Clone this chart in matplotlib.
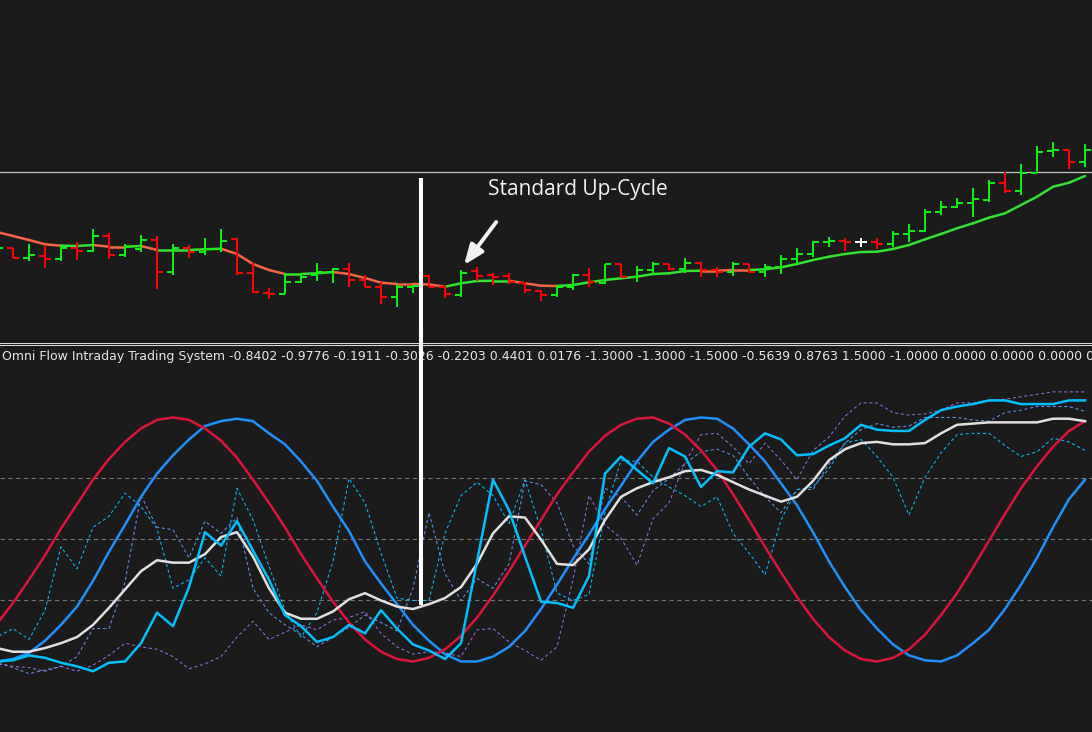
import numpy as np
import matplotlib
matplotlib.use('Agg')
import matplotlib.pyplot as plt
from matplotlib.collections import LineCollection
from matplotlib.lines import Line2D

# ---- price panel data (bar index -1 .. 67) ----
bar_idx = np.arange(-1, 68)

opens = [92, 94, 84.3, 86.3, 83, 94.3, 91.3, 106, 87, 93.3, 102, 70, 93.7, 90, 93.3, 102.7,
         69.3, 49, 48.3, 60, 67, 70.3, 73.3, 62.3, 55.3, 44.7, 55.3, 66.3, 55.3, 47.3, 70.7,
         67, 66.3, 59.3, 51.3, 47, 54.7, 67.3, 59.3, 78, 64.7, 72, 78, 72.7, 78.7, 72, 70.3,
         78, 70.3, 74.7, 82.7, 88, 100.3, 101.3, 100, 100, 98, 108, 111, 130.3, 135, 139.3,
         142, 159.3, 151, 169.3, 191, 192, 180]
highs = [98, 94, 98, 97, 96.3, 100, 113, 109, 98, 107, 106, 97.7, 97, 104, 113, 104.3, 78.7,
         54.3, 68.7, 68.7, 79, 74, 79, 67, 60.3, 57.7, 57, 67, 57, 72, 75.3, 68.7, 69.3, 60.3,
         52, 56.3, 68, 73.7, 78, 78, 76.3, 80.3, 78, 83.7, 80.3, 74.7, 79.7, 78, 78, 87, 94,
         101, 105.3, 103.7, 103.7, 103.7, 110.7, 117.7, 132.7, 140.7, 143.7, 153.7, 162,
         169.7, 177.7, 196, 199.7, 192, 198]
lows = [90, 84, 81.3, 74.3, 81.3, 82.3, 90.3, 83, 85.3, 90.3, 53, 67, 84.3, 87, 90.3, 67.3,
        49, 43.3, 47.7, 58.7, 61.3, 59.3, 55.3, 55, 37.7, 34.7, 48.7, 55.3, 43.7, 44.7, 61.3,
        57, 57.7, 49.3, 41.3, 45.3, 52, 54.7, 58, 63.7, 60.3, 67, 72, 68.7, 65.3, 65.3, 66.3,
        68.7, 64.7, 68, 78, 85.3, 95.3, 91.3, 95.3, 93, 94.7, 100.3, 110.3, 127, 133.7, 125.3,
        140.3, 149.3, 147, 168.7, 185.3, 173, 175.3]
closes = [94, 84, 87.3, 83, 94.3, 91.3, 106, 87, 94.7, 102, 70, 94, 90, 93.3, 101.3, 69.3,
          49.7, 48.3, 60, 65.3, 70.3, 73.3, 62.3, 55, 45.3, 55.3, 56, 55.3, 48, 68.7, 66, 64.7,
          60, 52, 47, 54.7, 67.3, 60.3, 78, 64.7, 72, 78, 72.7, 78.7, 72, 70, 78, 70.3, 75.3,
          82.7, 88, 100.3, 101.3, 100, 100, 98, 108, 111, 130.3, 135, 139.3, 143, 159.3, 151,
          169.3, 190, 192, 180, 192]
ma = [110, 106, 102, 97.7, 96.3, 96, 97, 95.3, 95.3, 96, 92, 92, 92, 92.7, 93.3, 88, 78, 72,
      68, 68, 68.7, 70, 68, 64, 59.3, 58, 58, 57.5, 55.3, 58.7, 61, 61.3, 61.3, 58.7, 56.3, 56,
      57, 59.7, 62, 63.7, 65.3, 68, 68.7, 71, 71.3, 71.3, 72, 72, 72.7, 74.7, 78, 82, 85.3, 88,
      90, 90.3, 93, 97, 102.7, 108, 113.7, 118.7, 124.3, 128.7, 137, 145.3, 155.3, 159.3, 166]
# 1 = rising (green) segment, 0 = falling (salmon) segment, for segments ending at bar 0..67
ma_up = [0] * 4 + [1] * 2 + [0] * 2 + [1] + [0] + [1] * 4 + [0] * 4 + [1] * 3 + [0] * 7 + \
        [1] * 4 + [0] * 3 + [1] * 9 + [0] * 3 + [1] * 21
level_line = 170

# ---- oscillator panel data ----
red_wave = [-0.69, -0.52, -0.33, -0.13, 0.09, 0.29, 0.49, 0.66, 0.80, 0.91, 0.98, 1.00, 0.98,
            0.91, 0.81, 0.67, 0.49, 0.30, 0.10, -0.12, -0.32, -0.51, -0.68, -0.82, -0.92, -0.98,
            -1.00, -0.97, -0.90, -0.79, -0.64, -0.46, -0.26, -0.05, 0.16, 0.37, 0.55, 0.72,
            0.85, 0.94, 0.99, 1.00, 0.95, 0.86, 0.73, 0.57, 0.37, 0.16, -0.06, -0.27, -0.47,
            -0.65, -0.80, -0.91, -0.98, -1.00, -0.97, -0.90, -0.78, -0.62, -0.44, -0.23, -0.01,
            0.21, 0.42, 0.60, 0.76, 0.89, 0.97]
blue_wave = [-1.00, -0.98, -0.93, -0.83, -0.70, -0.55, -0.34, -0.10, 0.12, 0.35, 0.54, 0.69,
             0.82, 0.93, 0.97, 0.99, 0.97, 0.87, 0.78, 0.64, 0.48, 0.27, 0.07, -0.18, -0.36,
             -0.53, -0.70, -0.83, -0.94, -1.00, -1.00, -0.96, -0.88, -0.75, -0.57, -0.37,
             -0.16, 0.04, 0.25, 0.44, 0.64, 0.80, 0.90, 0.98, 1.00, 0.99, 0.91, 0.78, 0.64,
             0.46, 0.28, 0.06, -0.18, -0.39, -0.58, -0.73, -0.86, -0.95, -0.99, -1.00, -0.95,
             -0.85, -0.74, -0.57, -0.37, -0.15, 0.10, 0.33, 0.49]
flow = [-0.89, -0.92, -0.92, -0.89, -0.85, -0.80, -0.70, -0.56, -0.41, -0.26, -0.17, -0.19,
        -0.19, -0.12, 0.02, 0.06, -0.14, -0.40, -0.60, -0.65, -0.65, -0.59, -0.49, -0.44,
        -0.50, -0.55, -0.57, -0.53, -0.48, -0.39, -0.20, 0.05, 0.19, 0.18, 0.00, -0.20, -0.21,
        -0.08, 0.16, 0.35, 0.42, 0.47, 0.51, 0.56, 0.57, 0.53, 0.47, 0.41, 0.36, 0.31, 0.35,
        0.48, 0.65, 0.74, 0.79, 0.80, 0.78, 0.78, 0.79, 0.87, 0.94, 0.95, 0.96, 0.96, 0.96,
        0.96, 0.99, 0.99, 0.97]
fast = [-1.00, -0.99, -0.95, -0.97, -1.01, -1.04, -1.08, -1.01, -1.00, -0.85, -0.60, -0.71,
        -0.39, 0.06, -0.05, 0.15, -0.09, -0.33, -0.62, -0.71, -0.84, -0.80, -0.70, -0.77,
        -0.58, -0.73, -0.86, -0.91, -0.98, -0.85, -0.18, 0.49, 0.24, -0.14, -0.51, -0.52,
        -0.56, -0.30, 0.54, 0.68, 0.57, 0.46, 0.75, 0.68, 0.43, 0.56, 0.55, 0.76, 0.87, 0.82,
        0.69, 0.70, 0.77, 0.83, 0.94, 0.90, 0.89, 0.89, 0.98, 1.06, 1.09, 1.11, 1.14, 1.14,
        1.11, 1.11, 1.11, 1.14, 1.14]
dash_cyan = [-0.80, -0.73, -0.82, -0.58, -0.06, -0.24, 0.10, 0.19, 0.38, 0.27, 0.09, -0.40,
             -0.33, -0.15, -0.30, 0.42, 0.16, -0.22, -0.58, -0.80, -0.60, -0.18, 0.50, 0.30,
             -0.11, -0.48, -0.50, -0.50, 0.05, 0.36, 0.47, 0.36, 0.13, 0.49, 0.08, -0.44,
             -0.50, -0.45, 0.22, 0.65, 0.64, 0.51, 0.43, 0.36, 0.27, 0.35, 0.05, -0.11, -0.29,
             0.16, 0.41, 0.43, 0.58, 0.79, 0.82, 0.68, 0.51, 0.20, 0.51, 0.71, 0.86, 0.87,
             0.87, 0.77, 0.68, 0.72, 0.83, 0.80, 0.73]
dash_blue = [-1.00, -1.05, -1.10, -1.07, -1.04, -0.96, -0.73, -0.73, -0.35, 0.36, 0.10, 0.08,
             -0.15, 0.15, 0.05, 0.18, -0.40, -0.60, -0.70, -0.78, -0.88, -0.80, -0.72, -0.62,
             -0.68, -0.75, -0.40, 0.22, -0.28, -0.50, -0.32, -0.40, -0.20, 0.48, 0.45, 0.30,
             -0.05, -0.20, 0.42, 0.35, 0.20, 0.40, 0.50, 0.62, 0.72, 0.74, 0.69, 0.51, 0.35,
             0.22, 0.41, 0.41, 0.62, 0.79, 0.90, 0.95, 0.92, 0.93, 1.00, 1.00, 1.00, 0.98, 0.97,
             1.04, 1.06, 1.09, 1.09, 1.09, 1.05]
dash_purple = [-1.02, -1.04, -1.05, -1.08, -1.04, -1.08, -1.03, -0.95, -0.85, -0.88, -0.90,
               -0.96, -1.06, -1.02, -0.96, -0.80, -0.67, -0.82, -0.76, -0.70, -0.74, -0.66,
               -0.64, -0.59, -0.77, -0.88, -0.94, -0.92, -0.93, -0.96, -0.74, -0.73, -0.84,
               -0.91, -0.99, -0.88, -0.33, 0.36, 0.12, 0.01, -0.21, 0.17, 0.30, 0.63, 0.86,
               0.87, 0.76, 0.62, 0.79, 0.65, 0.49, 0.73, 0.84, 1.01, 1.12, 1.12, 1.04, 1.02,
               1.03, 1.06, 1.12, 1.12, 1.14, 1.15, 1.17, 1.19, 1.21, 1.21, 1.21]
levels = [0.5, 0.0, -0.5]
buffer_values = [-0.8402, -0.9776, -0.1911, -0.3026, -0.2203, 0.4401, 0.0176, -1.3, -1.3,
                 -1.5, -0.5639, 0.8763, 1.5, -1.0, 0.0, 0.0, 0.0, 0.0]
marker_bar = 25.5
marker_flow = -0.54

bg = '#1b1b1b'
fig = plt.figure(figsize=(10.92, 7.32), dpi=100, facecolor=bg)
ax1 = fig.add_axes([0, 390 / 732, 1, 342 / 732], zorder=2)
ax2 = fig.add_axes([0, 0, 1, 386 / 732], zorder=2)
for ax in (ax1, ax2):
    ax.axis('off')
    ax.set_xlim(-0.8125, 67.4375)
ax1.set_ylim(0, 342)
ax2.set_ylim(-1.578, 1.586)

# ---- top panel ----
o = np.array(opens); h = np.array(highs); l = np.array(lows); c = np.array(closes)
bar_cols = np.where(c > o, '#10ee10', np.where(c < o, '#ff0000', '#ffffff'))

ax1.axhline(level_line, color='#c4c4c4', lw=0.9)

pts = np.column_stack([bar_idx, ma])
segs = np.stack([pts[:-1], pts[1:]], axis=1)
seg_cols = ['#33e033' if u else '#f86446' for u in ma_up]
ax1.add_collection(LineCollection(segs, colors=seg_cols, linewidths=1.8, capstyle='round'))

ax1.vlines(bar_idx, l, h, colors=bar_cols, lw=1.45)
ax1.hlines(o, bar_idx - 0.375, bar_idx, colors=bar_cols, lw=1.45)
ax1.hlines(c, bar_idx, bar_idx + 0.375, colors=bar_cols, lw=1.45)

ax1.text(29.7, 152.5, 'Standard Up-Cycle', color='#f2f2f2', fontsize=15,
         family='Open Sans', ha='left', va='center')
ax1.annotate('', xy=(28.19, 77), xytext=(30.2, 120),
             arrowprops=dict(arrowstyle='-|>,head_length=0.75,head_width=0.3',
                             color='#f2f2f2', lw=2.8, mutation_scale=16,
                             shrinkA=0, shrinkB=0, capstyle='round'))

ax1.vlines(marker_bar, -6, 164, color='white', lw=2.9, clip_on=False)

# ---- bottom panel ----
for lv in levels:
    ax2.axhline(lv, color='#777777', lw=0.8, ls=(0, (4, 3)))

dash = (0, (3, 2.5))
ax2.plot(bar_idx, dash_purple, color='#9370db', lw=0.75, ls=dash)
ax2.plot(bar_idx, dash_blue, color='#6495ed', lw=0.75, ls=dash)
ax2.plot(bar_idx, dash_cyan, color='#00bfff', lw=0.75, ls=dash)
ax2.plot(bar_idx, blue_wave, color='#1e90ff', lw=1.8)
ax2.plot(bar_idx, red_wave, color='#dc143c', lw=1.8)
ax2.plot(bar_idx, flow, color='#e0e0e0', lw=1.8)
ax2.plot(bar_idx, fast, color='#00bfff', lw=1.8)

ax2.vlines(marker_bar, marker_flow, 1.7, color='white', lw=2.9, clip_on=False)

# ---- separators and label ----
for yp in (342.5, 344.5):
    fig.add_artist(Line2D([0, 1], [1 - yp / 732] * 2, transform=fig.transFigure,
                          color='#d8d8d8', lw=0.75, zorder=1))

label = 'Omni Flow Intraday Trading System ' + ' '.join('%.4f' % v for v in buffer_values)
fig.text(2 / 1092, 1 - 357 / 732, label, color='#e6e6e6', fontsize=9,
         family='DejaVu Sans', ha='left', va='center', zorder=1.5)

fig.savefig('out.png', dpi=100, facecolor=bg)
